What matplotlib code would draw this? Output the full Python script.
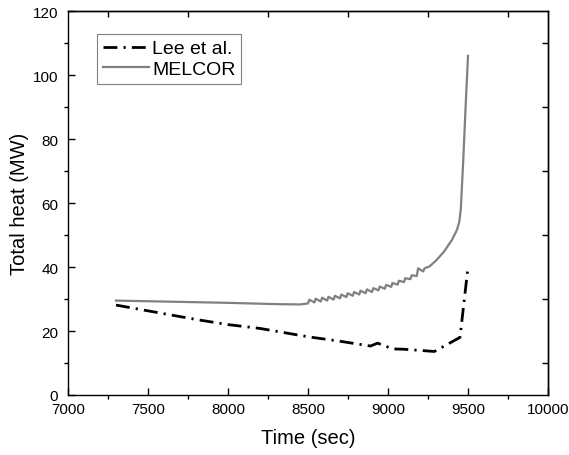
import matplotlib
matplotlib.use("Agg")
import matplotlib.pyplot as plt
from matplotlib.ticker import MultipleLocator, FixedLocator

plt.rcParams['font.family'] = ['Liberation Sans', 'DejaVu Sans']

# Lee et al. data
lee_t = [7300, 7500, 7800, 8000, 8200, 8500, 8700, 8890, 8935, 9030, 9100, 9290, 9450, 9500]
lee_v = [28.1, 26.3, 23.6, 22.0, 20.8, 18.2, 16.8, 15.3, 16.2, 14.4, 14.3, 13.6, 18.0, 40.0]

# MELCOR data
mel_t = [7300, 7600, 8000, 8300, 8450,
         8500, 8508, 8540, 8548, 8580, 8588, 8620, 8628, 8660, 8668,
         8700, 8708, 8740, 8748, 8780, 8788, 8820, 8828, 8860, 8868,
         8900, 8908, 8940, 8948, 8980, 8988, 9020, 9028, 9060, 9068,
         9100, 9108, 9140, 9148, 9180, 9188, 9220, 9228,
         9260, 9300, 9350, 9400, 9430, 9445, 9455, 9470, 9485, 9500]
mel_v = [29.5, 29.2, 28.8, 28.4, 28.3,
         28.6, 29.8, 28.9, 30.1, 29.2, 30.4, 29.5, 30.7, 29.8, 31.0,
         30.2, 31.4, 30.6, 31.8, 31.0, 32.2, 31.4, 32.6, 31.8, 33.0,
         32.2, 33.4, 32.7, 33.9, 33.2, 34.4, 33.8, 35.0, 34.5, 35.7,
         35.3, 36.5, 36.2, 37.4, 37.2, 39.6, 38.6, 39.6,
         40.2, 42.0, 44.8, 48.5, 51.5, 54.0, 58.0, 73.0, 90.0, 106.0]

x_label = "Time (sec)"
y_label = "Total heat (MW)"
series_names = ["Lee et al.", "MELCOR"]

fig = plt.figure(figsize=(5.69, 4.56), dpi=100)
ax = fig.add_axes([68/569, 1-396/456, 480/569, 384/456])

ax.plot(lee_t, lee_v, color='black', lw=2.0, linestyle=(0, (5, 2.2, 0.8, 2.2)),
        label=series_names[0], dash_capstyle='butt')
ax.plot(mel_t, mel_v, color='#808080', lw=1.6, label=series_names[1])

ax.set_xlim(7000, 10000)
ax.set_ylim(0, 120)
ax.xaxis.set_major_locator(MultipleLocator(500))
ax.yaxis.set_major_locator(MultipleLocator(20))
ax.xaxis.set_minor_locator(FixedLocator([7250 + 500*i for i in range(6)]))
ax.yaxis.set_minor_locator(FixedLocator([10 + 20*i for i in range(6)]))

ax.tick_params(which='major', direction='in', length=5, width=1.0, labelsize=11)
ax.tick_params(axis='x', which='major', pad=5)
ax.tick_params(axis='y', which='major', pad=7)
ax.tick_params(which='minor', direction='out', length=3, width=1.0)
for s in ax.spines.values():
    s.set_linewidth(1.0)

sec_x = ax.secondary_xaxis('top')
sec_x.set_xticks([7250 + 500*i for i in range(6)])
sec_x.tick_params(direction='in', length=4, width=1.0, labeltop=False)
sec_x.spines['top'].set_linewidth(1.0)
sec_y = ax.secondary_yaxis('right')
sec_y.set_yticks([10 + 20*i for i in range(6)])
sec_y.tick_params(direction='in', length=4, width=1.0, labelright=False)
sec_y.spines['right'].set_linewidth(1.0)

ax.set_xlabel(x_label, fontsize=14.5, labelpad=9)
ax.set_ylabel(y_label, fontsize=14.5, labelpad=3)

leg = ax.legend(loc='upper left', bbox_to_anchor=(0.06, 0.94), borderaxespad=0,
                fontsize=14, frameon=True, fancybox=False, framealpha=1,
                edgecolor='#808080', handlelength=2.4, handletextpad=0.15,
                labelspacing=0.15, borderpad=0.3)
leg.get_frame().set_linewidth(0.8)

fig.savefig("out.png", dpi=100)
